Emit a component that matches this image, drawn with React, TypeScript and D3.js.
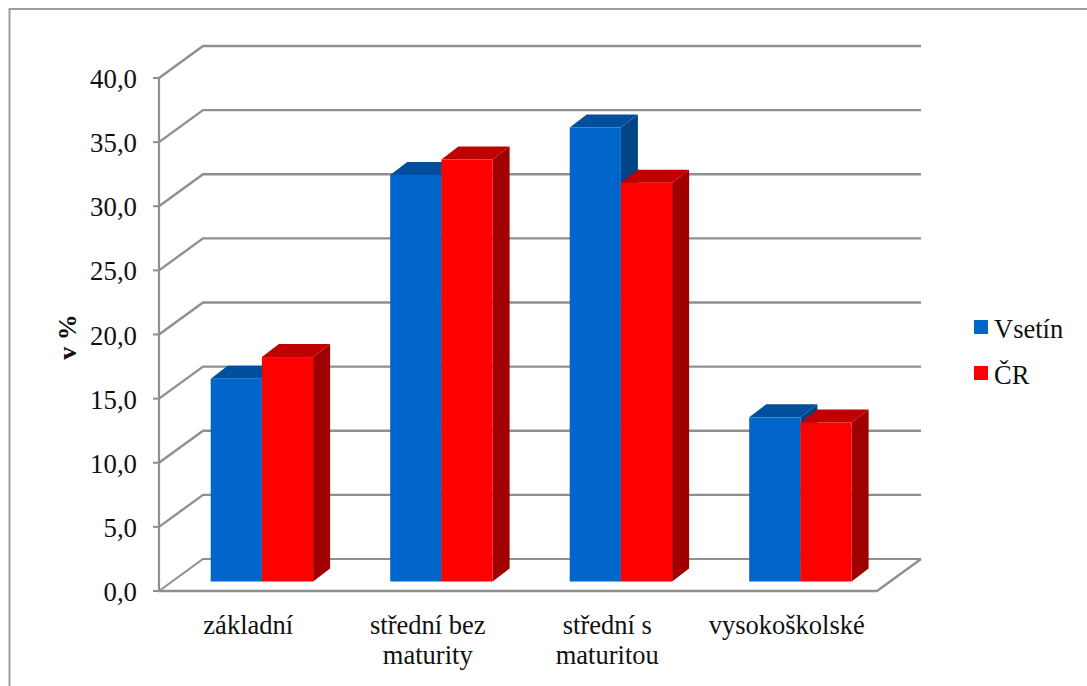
import React from "react";
import * as d3 from "d3";

const categories: string[][] = [["základní"], ["střední bez", "maturity"], ["střední s", "maturitou"], ["vysokoškolské"]];
const seriesNames = ["Vsetín", "ČR"];
const vsetin = [15.8, 31.7, 35.4, 12.8];
const cr = [17.5, 32.9, 31.1, 12.4];
const ticks = [0, 5, 10, 15, 20, 25, 30, 35, 40];
const colors = [
  { front: "#0066CC", top: "#004F9E", side: "#004488" },
  { front: "#FF0000", top: "#C00000", side: "#A00000" },
];

const FONT = "'Liberation Serif', 'Times New Roman', serif";
const GRID = "#8f8f8f";

export default function App() {
  const x0 = 159, x1 = 877, yB = 591, yT = 78;
  const dx = 44, dy = -32;
  const y = d3.scaleLinear().domain([0, 40]).range([yB, yT]);
  const band = d3.scaleBand<number>().domain([0, 1, 2, 3]).range([x0, x1]);
  const bw = 51.2, bdx = 17, bdy = -13, off = 51.7, lift = -9.5;
  const series = [vsetin, cr];
  const fmt = (v: number) => v.toFixed(1).replace(".", ",");
  const catX = (i: number) => band(i)! + band.bandwidth() / 2 - 0.5;
  return (
    <svg width={1087} height={686} style={{ position: "absolute", left: 0, top: 0, background: "#fff" }} fontFamily={FONT}>
      <path d="M9.5,686V9H1087" fill="none" stroke="#9c9c9c" strokeWidth={2} />
      {ticks.map((t) => (
        <g key={t}>
          <path d={`M${x0},${y(t)}L${x0 + dx},${y(t) + dy}H${x1 + dx}`} fill="none" stroke={GRID} strokeWidth={t === 0 ? 2 : 2.4} />
          <line x1={153} x2={x0} y1={y(t)} y2={y(t)} stroke={GRID} strokeWidth={2} />
          <text x={137} y={y(t) + 10} fontSize={26.8} textAnchor="end" fill="#111">{fmt(t)}</text>
        </g>
      ))}
      <line x1={x0} x2={x0} y1={yT} y2={yB + 1} stroke={GRID} strokeWidth={2.2} />
      <path d={`M${x0 - 1},${yB}H${x1}L${x1 + dx},${yB + dy}`} fill="none" stroke={GRID} strokeWidth={2.4} />
      {categories.map((_, i) => {
        const base = band(i)! + off;
        return (
          <g key={i}>
            {[0, 1].map((s) => {
              const v = series[s][i];
              const bx = base + s * bw;
              const bot = yB + lift;
              const top = bot - (y(0) - y(v));
              const c = colors[s];
              return (
                <g key={s}>
                  <path d={`M${bx + bw},${top}l${bdx},${bdy}V${bot + bdy}l${-bdx},${-bdy}Z`} fill={c.side} />
                  <path d={`M${bx},${top}l${bdx},${bdy}h${bw}l${-bdx},${-bdy}Z`} fill={c.top} />
                  <rect x={bx} y={top} width={bw} height={bot - top} fill={c.front} />
                </g>
              );
            })}
          </g>
        );
      })}
      {categories.map((lines, i) => (
        <text key={i} x={catX(i)} y={634} textAnchor="middle" fontSize={26.5} fill="#111">
          {lines.map((l, j) => (
            <tspan key={j} x={catX(i)} dy={j === 0 ? 0 : 30}>{l}</tspan>
          ))}
        </text>
      ))}
      <text transform="translate(76,337) rotate(-90)" textAnchor="middle" fontSize={26} fontWeight="bold" fill="#111">v %</text>
      {seriesNames.map((n, i) => (
        <g key={n}>
          <rect x={974} y={320 + i * 46} width={14} height={14} fill={colors[i].front} />
          <text x={994} y={338 + i * 46} fontSize={26.5} fill="#111">{n}</text>
        </g>
      ))}
    </svg>
  );
}
